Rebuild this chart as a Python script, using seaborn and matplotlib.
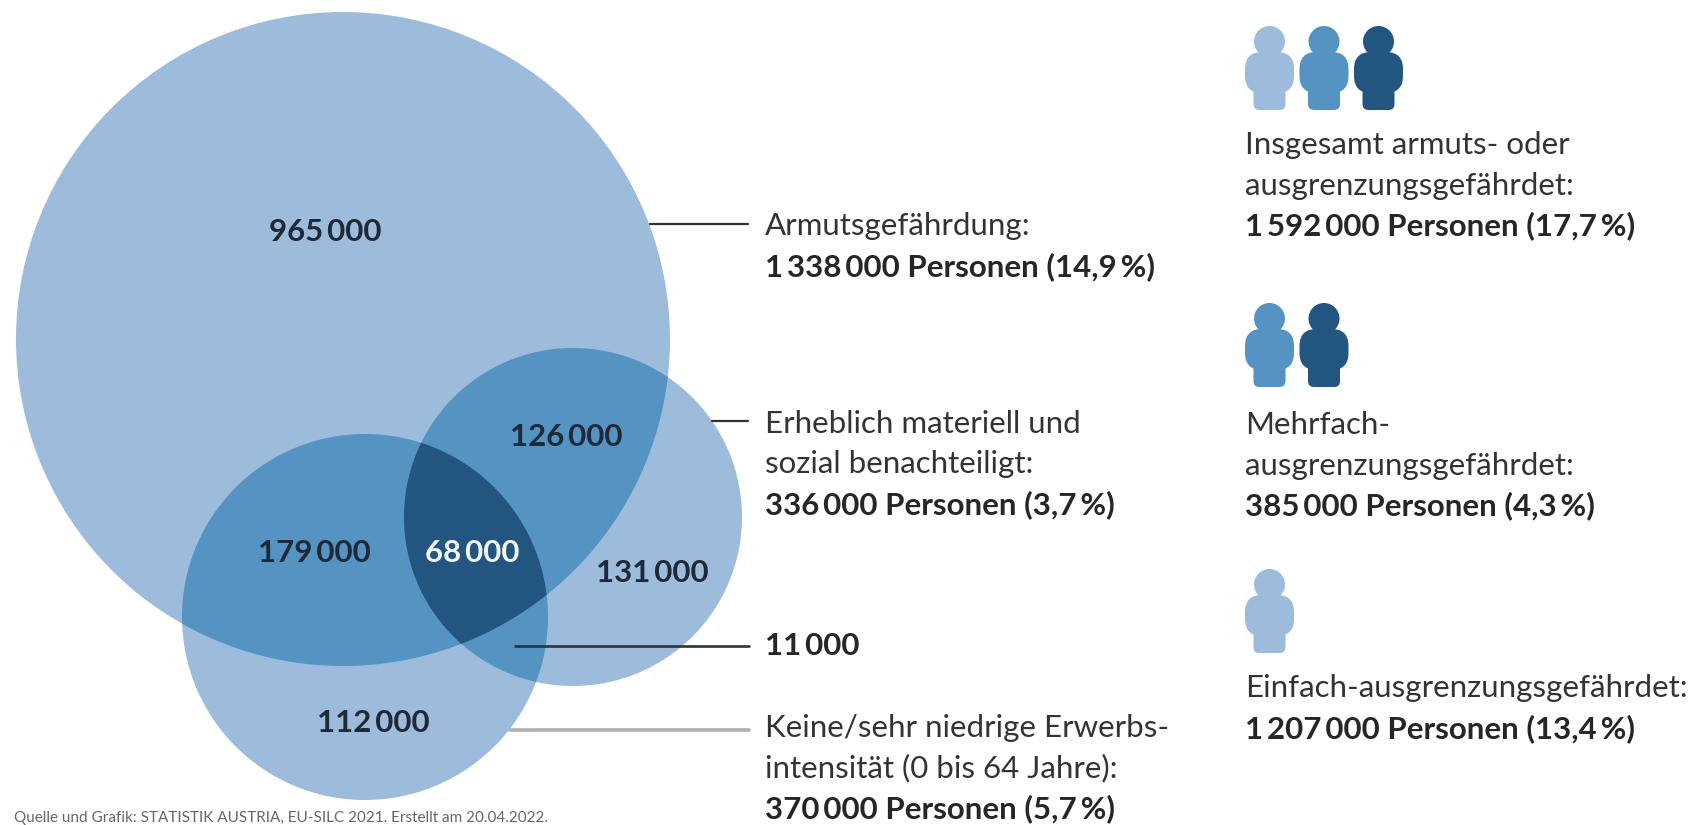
"""Armuts- und Ausgrenzungsgefaehrdung, Venn-Diagramm"""

import numpy as np
import matplotlib
matplotlib.use('Agg')
import matplotlib.pyplot as plt
from matplotlib.patches import Circle, FancyBboxPatch, Polygon
import seaborn as sns

region_values = [965000, 126000, 179000, 68000, 131000, 112000]
region_colors = ['#1f2a38', '#1f2a38', '#1f2a38', '#f2f5f7', '#1f2a38', '#1f2a38']
extra_value = 11000

group_titles = ['Armutsgefährdung:',
                'Erheblich materiell und\nsozial benachteiligt:',
                'Keine/sehr niedrige Erwerbs-\nintensität (0 bis 64 Jahre):']
group_persons = [1338000, 336000, 370000]
group_pct = ['14,9', '3,7', '5,7']

summary_titles = ['Insgesamt armuts- oder\nausgrenzungsgefährdet:',
                  'Mehrfach-\nausgrenzungsgefährdet:',
                  'Einfach-ausgrenzungsgefährdet:']
summary_persons = [1592000, 385000, 1207000]
summary_pct = ['17,7', '4,3', '13,4']

source = 'Quelle und Grafik: STATISTIK AUSTRIA, EU-SILC 2021. Erstellt am 20.04.2022.'

LIGHT = '#9dbbdb'
MID = '#5593c3'
DARK = '#22557f'
FONT = 'Lato'
FS = 22.5

sns.set_theme(style='white', rc={'axes.grid': False})
plt.rcParams['font.family'] = [FONT, 'DejaVu Sans']

fig = plt.figure(figsize=(16.9, 8.25), dpi=100)
ax = fig.add_axes([0, 0, 1, 1])
ax.set_xlim(0, 1690)
ax.set_ylim(825, 0)
ax.axis('off')

# circles: x, y, r
big = (343, 339, 327)
med = (573, 517, 169)
small = (365, 617, 183)


def overlap(*circles):
    """Outline of the common area of some circles, the area is convex"""
    pts = []
    t = np.linspace(0, 2 * np.pi, 2880, endpoint=False)
    for cx, cy, r in circles:
        pts.append(np.column_stack([cx + r * np.cos(t), cy + r * np.sin(t)]))
    pts = np.vstack(pts)
    keep = np.ones(len(pts), dtype=bool)
    for cx, cy, r in circles:
        keep &= np.hypot(pts[:, 0] - cx, pts[:, 1] - cy) <= r + 0.01
    pts = pts[keep]
    mid = pts.mean(axis=0)
    order = np.argsort(np.arctan2(pts[:, 1] - mid[1], pts[:, 0] - mid[0]))
    return pts[order]


def number(v):
    return f'{v:,}'.replace(',', '\u2009')


def person(x, y, color):
    # y is the top of the head, figure is 84 px high
    ax.add_patch(FancyBboxPatch((x - 16, y + 50), 32, 34, boxstyle='round,pad=0,rounding_size=6',
                                fc=color, lw=0, zorder=3))
    ax.add_patch(FancyBboxPatch((x - 24.5, y + 26), 49, 41, boxstyle='round,pad=0,rounding_size=17',
                                fc=color, lw=0, zorder=3))
    ax.add_patch(Circle((x, y + 15.5), 15.5, fc=color, lw=0, zorder=3))


for c in (big, med, small):
    ax.add_patch(Circle(c[:2], c[2], fc=LIGHT, lw=0, zorder=1))
for pair in ((big, med), (big, small), (med, small)):
    ax.add_patch(Polygon(overlap(*pair), fc=MID, lw=0, zorder=1.1))
ax.add_patch(Polygon(overlap(big, med, small), fc=DARK, lw=0, zorder=1.2))

# numbers in the regions
region_x = [325, 566, 314, 472, 652, 373]
region_y = [232, 437, 553, 553, 573, 723]
for x, y, v, col in zip(region_x, region_y, region_values, region_colors):
    ax.text(x, y, number(v), ha='center', va='center', fontsize=FS, weight='bold', color=col, zorder=5)

# leader lines
sns.lineplot(x=[650, 748], y=[224, 224], color='#333333', lw=1.6, ax=ax, zorder=4)
sns.lineplot(x=[712, 748], y=[421, 421], color='#333333', lw=1.6, ax=ax, zorder=4)
sns.lineplot(x=[515, 749], y=[646, 646], color='#2c3338', lw=1.9, ax=ax, zorder=4)
sns.lineplot(x=[510, 749], y=[730, 730], color='#aeb0b2', lw=2.6, ax=ax, zorder=4)

TXT = '#262626'
LEAD = 40.5


def block(x, y_last, title, persons, pct):
    lines = title.split('\n')
    for i, line in enumerate(lines):
        ax.text(x, y_last - LEAD * (len(lines) - i), line, fontsize=FS, color='#333333', va='baseline')
    ax.text(x, y_last, f'{number(persons)} Personen ({pct}\u2009%)', fontsize=FS, weight='bold',
            color=TXT, va='baseline')


for y, t, p, pc in zip([276, 514, 818], group_titles, group_persons, group_pct):
    block(765, y, t, p, pc)
ax.text(765, 655, number(extra_value), fontsize=FS, weight='bold', color=TXT, va='baseline')

for y, t, p, pc in zip([235, 515, 738], summary_titles, summary_persons, summary_pct):
    block(1245, y, t, p, pc)

# people icons
person_rows = [(26, [LIGHT, MID, DARK]), (303, [MID, DARK]), (569, [LIGHT])]
for top, cols in person_rows:
    for i, col in enumerate(cols):
        person(1269.5 + i * 54.5, top, col)

ax.text(14, 822, source, fontsize=11, color='#666666', va='baseline')

fig.savefig('out.png', dpi=100)
